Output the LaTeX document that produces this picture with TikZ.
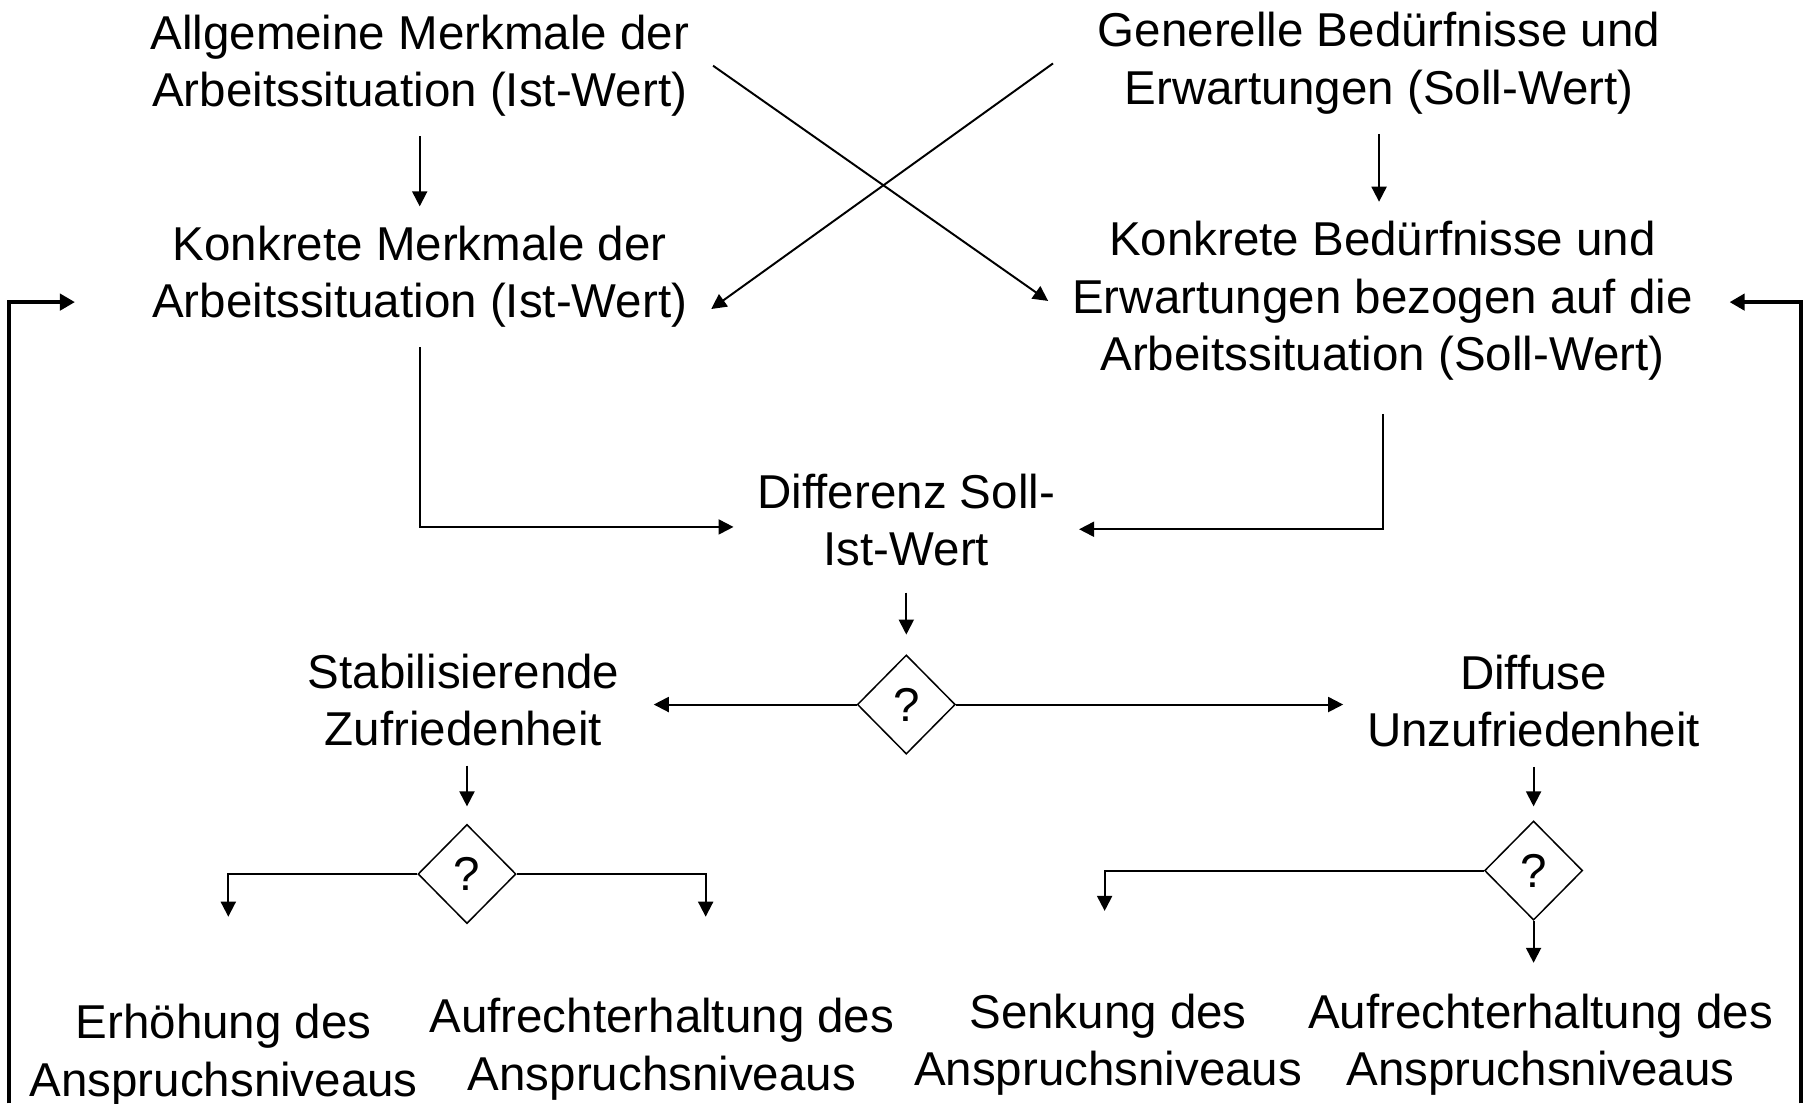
\documentclass[tikz,border=0pt]{standalone}
\usepackage{fontspec}
\setmainfont{Liberation Sans}
\usetikzlibrary{shapes.geometric,arrows.meta}

\tikzset{every picture/.style={line width=0.85pt}}
\tikzset{
  txt/.style={align=center,inner xsep=10pt,inner ysep=8pt,font=\fontsize{20.6}{25}\selectfont},
  dec/.style={draw,diamond,line width=0.65pt,inner sep=0pt,minimum width=42.5pt,minimum height=43pt,font=\fontsize{20.6}{25}\selectfont},
  arr/.style={-{Triangle[length=6.5pt,width=6.5pt]}},
  fb/.style={line width=1.7pt,-{Triangle[length=6.5pt,width=7pt]}}
}

\begin{document}
\begin{tikzpicture}[x=0.5pt,y=0.5pt,yscale=-1,xscale=1]
\useasboundingbox (0,0) rectangle (1568,957);

% Text Node
\node[txt] (ist1) at (364,57) {Allgemeine Merkmale der\\Arbeitssituation (Ist-Wert)};
% Text Node
\node[txt] (soll1) at (1196,55) {Generelle Bedürfnisse und\\Erwartungen (Soll-Wert)};
% Text Node
\node[txt] (ist2) at (364,240) {Konkrete Merkmale der\\Arbeitssituation (Ist-Wert)};
% Text Node
\node[txt] (soll2) at (1199,261) {Konkrete Bedürfnisse und\\Erwartungen bezogen auf die\\Arbeitssituation (Soll-Wert)};
% Text Node
\node[txt] (diff) at (786,451) {Differenz Soll-\\Ist-Wert};
% Shape: Diamond
\node[dec] (q1) at (786,611) {?};
% Text Node
\node[txt] (zuf) at (402,607) {Stabilisierende\\Zufriedenheit};
% Text Node
\node[txt] (unz) at (1330,608) {Diffuse\\Unzufriedenheit};
% Shape: Diamond
\node[dec] (q2) at (405,758) {?};
% Shape: Diamond
\node[dec] (q3) at (1330,755) {?};
% Text Node
\node[txt] (erh) at (194,915) {Erhöhung des\\Anspruchsniveaus};
% Text Node
\node[txt] (auf1) at (574,910) {Aufrechterhaltung des\\Anspruchsniveaus};
% Text Node
\node[txt] (sen) at (961,906) {Senkung des\\Anspruchsniveaus};
% Text Node
\node[txt] (auf2) at (1336,906) {Aufrechterhaltung des\\Anspruchsniveaus};

% free ends
\coordinate (e1) at (198,795);
\coordinate (e2) at (612,795);
\coordinate (e3) at (958,790);
\coordinate (e4) at (1330,835);
\coordinate (fbL) at (8,957);
\coordinate (fbR) at (1562,957);
\coordinate (k1in) at (65,262);
\coordinate (k2in) at (1500,262);

%Straight Lines
\draw[arr] (ist1) -- (ist2);
\draw[arr] (soll1.south) -- (soll1.south |- soll2.north);
\draw[arr] (ist1.east) -- (soll2.west);
\draw[arr] ([xshift=-9pt]soll1.west) -- ([yshift=14pt]ist2.east);
\draw[arr] (ist2.south) |- ([yshift=3pt]diff.west);
\draw[arr] ([yshift=6pt]soll2.south) |- ([yshift=4pt]diff.east);
\draw[arr] ([yshift=3pt]diff.south) -- ([yshift=-8.5pt]q1.north);
\draw[arr,shorten >=4.5pt] (q1.west) -- (q1.west -| zuf.east);
\draw[arr] (q1.east) -- (q1.east -| unz.west);
\draw[arr] (q2.north |- zuf.south) -- ([yshift=-7.5pt]q2.north);
\draw[arr] (unz.south) -- ([yshift=-6pt]q3.north);
\draw[arr] (q2.west) -| (e1);
\draw[arr] (q2.east) -| (e2);
\draw[arr] (q3.west) -| (e3);
\draw[arr] (q3.south) -- (e4);

%Feedback
\draw[fb] (fbL) |- (k1in);
\draw[fb] (fbR) |- (k2in);

\end{tikzpicture}
\end{document}
